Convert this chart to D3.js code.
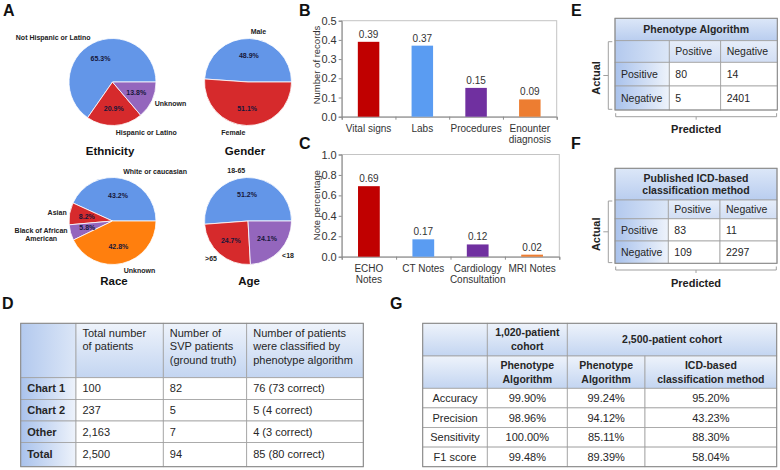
<!DOCTYPE html>
<html>
<head>
<meta charset="utf-8">
<script src="https://cdn.jsdelivr.net/npm/d3@7"></script>
<style>
  body { margin: 0; background: #fff; }
  svg { display: block; font-family: "Liberation Sans", Arial, Helvetica, sans-serif; }
</style>
</head>
<body>
<svg id="fig" width="780" height="470"></svg>
<script>
'use strict';

// ---- data ----
const ethnicityLabels = ['Not Hispanic or Latino', 'Hispanic or Latino', 'Unknown'];
const ethnicityValues = [65.3, 20.9, 13.8];
const genderLabels = ['Male', 'Female'];
const genderValues = [48.9, 51.1];
const raceLabels = ['White or caucasian', 'Asian', 'Black of African\nAmerican', 'Unknown'];
const raceValues = [43.2, 8.2, 5.8, 42.8];
const ageLabels = ['18-65', '>65', '<18'];
const ageValues = [51.2, 24.7, 24.1];

const recordCategories = ['Vital signs', 'Labs', 'Procedures', 'Enounter\ndiagnosis'];
const recordValues = [0.39, 0.37, 0.15, 0.09];
const noteCategories = ['ECHO\nNotes', 'CT Notes', 'Cardiology\nConsultation', 'MRI Notes'];
const noteValues = [0.69, 0.17, 0.12, 0.02];

const cohortHeader = ['', 'Total number\nof patients', 'Number of\nSVP patients\n(ground truth)',
  'Number of patients\nwere classified by\nphenotype algorithm'];
const cohortRows = [
  ['Chart 1', '100', '82', '76 (73 correct)'],
  ['Chart 2', '237', '5', '5 (4 correct)'],
  ['Other', '2,163', '7', '4 (3 correct)'],
  ['Total', '2,500', '94', '85 (80 correct)']
];

const confusionHeader = ['', 'Positive', 'Negative'];
const phenotypeConfusion = [['Positive', '80', '14'], ['Negative', '5', '2401']];
const icdConfusion = [['Positive', '83', '11'], ['Negative', '109', '2297']];

const cohortGroups = ['', '1,020-patient\ncohort', '2,500-patient cohort'];
const methodHeader = ['', 'Phenotype\nAlgorithm', 'Phenotype\nAlgorithm', 'ICD-based\nclassification method'];
const metricRows = [
  ['Accuracy', '99.90%', '99.24%', '95.20%'],
  ['Precision', '98.96%', '94.12%', '43.23%'],
  ['Sensitivity', '100.00%', '85.11%', '88.30%'],
  ['F1 score', '99.48%', '89.39%', '58.04%']
];

const pieColors = ['#6396e8', '#d62a2c', '#9466bd', '#ff7f0e'];
const barColors = ['#c00000', '#5a9cf2', '#7030a0', '#ed7d31'];

const svg = d3.select('#fig');

// gradients for table cells
const defs = svg.append('defs');
function linGrad(id, horizontal, c0, c1) {
  const lg = defs.append('linearGradient').attr('id', id)
    .attr('x1', 0).attr('y1', 0).attr('x2', horizontal ? 1 : 0).attr('y2', horizontal ? 0 : 1);
  lg.append('stop').attr('offset', 0).attr('stop-color', c0);
  lg.append('stop').attr('offset', 1).attr('stop-color', c1);
}
linGrad('gHdr', false, '#eef3fb', '#c3d5f1');
linGrad('gTitle', false, '#dce7f8', '#b9cdef');
linGrad('gHead2', false, '#e6edf9', '#d2def4');
linGrad('gRow', true, '#a9c2ec', '#eef3fb');
linGrad('gCorner', true, '#b3c9ee', '#dbe6f7');

function panelLetter(t, x, y) {
  svg.append('text').attr('x', x).attr('y', y).attr('font-size', 16).attr('font-weight', 'bold')
    .attr('fill', '#111').text(t);
}

// ---- pies ----
function drawPie(cfg) {
  const r = 43.5;
  const g = svg.append('g').attr('transform', `translate(${cfg.cx},${cfg.cy})`);
  const arcs = d3.pie().sort(null)
    .startAngle(Math.PI / 2).endAngle(Math.PI / 2 - 2 * Math.PI)(cfg.values);
  const arc = d3.arc().innerRadius(0).outerRadius(r);
  const mid = d3.arc().innerRadius(r * 0.6).outerRadius(r * 0.6);

  g.selectAll('path').data(arcs).join('path')
    .attr('d', arc)
    .attr('fill', (d, i) => pieColors[i])
    .attr('stroke', '#fff').attr('stroke-width', 0.8);

  g.selectAll('text.pct').data(arcs).join('text').attr('class', 'pct')
    .attr('transform', d => `translate(${mid.centroid(d)})`)
    .attr('text-anchor', 'middle').attr('dy', '0.35em')
    .attr('font-size', 7).attr('font-weight', 'bold').attr('fill', '#17173a')
    .text(d => d3.format('.1f')(d.data) + '%');

  g.selectAll('g.lbl').data(arcs).join('g').attr('class', 'lbl').each(function (d, i) {
    const a = (d.startAngle + d.endAngle) / 2;
    const s = Math.sin(a), c = Math.cos(a);
    const lines = cfg.labels[i].split('\n');
    const t = d3.select(this).append('text')
      .attr('font-size', 7).attr('font-weight', 'bold').attr('fill', '#222')
      .attr('text-anchor', 'middle');
    t.selectAll('tspan').data(lines).join('tspan')
      .attr('x', 0).attr('dy', (l, j) => j === 0 ? 0 : 8).text(l => l);
    const w = t.node().getBBox().width;
    const px = (r + 2) * s + (s > 0 ? 1 : -1);
    const py = -(r + 2) * c - c * 5;
    const tx = s > 0 ? px + w / 2 : px - w / 2;
    const ty = py - (lines.length - 1) * 4 + 2.5;
    t.attr('transform', `translate(${tx},${ty})`);
  });

  svg.append('text').attr('x', cfg.tx).attr('y', cfg.ty)
    .attr('text-anchor', 'middle').attr('font-size', 11.5).attr('font-weight', 'bold')
    .attr('fill', '#111').text(cfg.title);
}

drawPie({ cx: 112.5, cy: 82, values: ethnicityValues, labels: ethnicityLabels, title: 'Ethnicity', tx: 110, ty: 155 });
drawPie({ cx: 248, cy: 82, values: genderValues, labels: genderLabels, title: 'Gender', tx: 245, ty: 155 });
drawPie({ cx: 112.5, cy: 221, values: raceValues, labels: raceLabels, title: 'Race', tx: 114, ty: 285 });
drawPie({ cx: 248, cy: 221, values: ageValues, labels: ageLabels, title: 'Age', tx: 249, ty: 285 });

// ---- bar charts ----
function drawBars(cfg) {
  const g = svg.append('g');
  const n = cfg.cats.length;
  const x = d3.scaleBand().domain(cfg.cats).range([cfg.left, cfg.right])
    .paddingInner(0.6).paddingOuter(0.3);
  const y = d3.scaleLinear().domain([0, cfg.max]).range([cfg.bottom, cfg.top]);

  g.append('rect')
    .attr('x', cfg.left).attr('y', cfg.top)
    .attr('width', cfg.right - cfg.left).attr('height', cfg.bottom - cfg.top)
    .attr('fill', 'none').attr('stroke', '#c4c4c4');

  const ya = g.append('g').attr('transform', `translate(${cfg.left},0)`)
    .call(d3.axisLeft(y).tickValues(d3.range(0, cfg.max + 1e-9, cfg.step))
      .tickFormat(d3.format('.1f')).tickSize(3).tickPadding(2));
  ya.selectAll('path,line').attr('stroke', '#8c8c8c');
  ya.selectAll('text').attr('font-size', 11).attr('fill', '#333')
    .attr('font-family', '"Liberation Sans", Arial, sans-serif');

  // ticks at the category boundaries
  const xb = d3.scaleLinear().domain([0, n]).range([cfg.left, cfg.right]);
  const xa = g.append('g').attr('transform', `translate(0,${cfg.bottom})`)
    .call(d3.axisBottom(xb).tickValues(d3.range(n + 1)).tickFormat('').tickSize(3));
  xa.selectAll('path,line').attr('stroke', '#8c8c8c');

  g.selectAll('rect.bar').data(cfg.vals).join('rect').attr('class', 'bar')
    .attr('x', (d, i) => x(cfg.cats[i]))
    .attr('y', d => y(d))
    .attr('width', x.bandwidth())
    .attr('height', d => cfg.bottom - y(d))
    .attr('fill', (d, i) => barColors[i]);

  g.selectAll('text.val').data(cfg.vals).join('text').attr('class', 'val')
    .attr('x', (d, i) => x(cfg.cats[i]) + x.bandwidth() / 2)
    .attr('y', d => y(d) - 4)
    .attr('text-anchor', 'middle').attr('font-size', 10).attr('fill', '#333')
    .text(d => d3.format('.2f')(d));

  g.selectAll('text.cat').data(cfg.cats).join('text').attr('class', 'cat')
    .attr('text-anchor', 'middle').attr('font-size', 10).attr('fill', '#333')
    .each(function (c) {
      d3.select(this).selectAll('tspan').data(c.split('\n')).join('tspan')
        .attr('x', x(c) + x.bandwidth() / 2)
        .attr('y', (l, j) => cfg.bottom + 14.8 + j * 11.3)
        .text(l => l);
    });

  g.append('text')
    .attr('transform', `translate(${cfg.left - 22},${cfg.titleY}) rotate(-90)`)
    .attr('text-anchor', 'middle').attr('font-size', 9.5).attr('fill', '#333')
    .text(cfg.title);
}

drawBars({ cats: recordCategories, vals: recordValues, left: 341.7, right: 556.7, top: 20.7, bottom: 116.7,
  max: 0.5, step: 0.1, title: 'Number of records', titleY: 65 });
drawBars({ cats: noteCategories, vals: noteValues, left: 341.7, right: 559.3, top: 154.5, bottom: 256.7,
  max: 1.0, step: 0.2, title: 'Note percentage', titleY: 205 });

// ---- tables ----
function drawTable(cfg) {
  const g = svg.append('g');
  const cells = [];
  cfg.grid.forEach((row, r) => {
    let c = 0;
    row.forEach(cell => {
      const span = cell.span || 1;
      cells.push(Object.assign({
        x: cfg.xs[c], w: cfg.xs[c + span] - cfg.xs[c],
        y: cfg.ys[r], h: cfg.ys[r + 1] - cfg.ys[r]
      }, cell));
      c += span;
    });
  });
  const cg = g.selectAll('g.cell').data(cells).join('g').attr('class', 'cell');
  cg.append('rect')
    .attr('x', d => d.x).attr('y', d => d.y).attr('width', d => d.w).attr('height', d => d.h)
    .attr('fill', d => d.fill || '#fff').attr('stroke', '#a0a0a0').attr('stroke-width', 0.8);
  cg.append('text')
    .attr('font-size', d => d.bold ? cfg.boldSize : cfg.fontSize)
    .attr('font-weight', d => d.bold ? 'bold' : 'normal')
    .attr('fill', '#262626')
    .attr('text-anchor', d => d.align === 'left' ? 'start' : 'middle')
    .each(function (d) {
      const lines = d.text.split('\n');
      const x = d.align === 'left' ? d.x + cfg.pad : d.x + d.w / 2;
      const y0 = d.valign === 'top' ? d.y + cfg.topPad
        : d.y + d.h / 2 - (lines.length - 1) * cfg.lineH / 2;
      d3.select(this).selectAll('tspan').data(lines).join('tspan')
        .attr('x', x).attr('y', (l, j) => y0 + j * cfg.lineH).attr('dy', '0.35em')
        .text(l => l);
    });
  const x0 = cfg.xs[0], x1 = cfg.xs[cfg.xs.length - 1];
  const y0 = cfg.ys[0], y1 = cfg.ys[cfg.ys.length - 1];
  g.append('rect').attr('x', x0).attr('y', y0).attr('width', x1 - x0).attr('height', y1 - y0)
    .attr('fill', 'none').attr('stroke', '#8a8a8a').attr('stroke-width', 1);
}

// D
drawTable({
  xs: [20.7, 76, 163.3, 246.7, 363.3],
  ys: [323.3, 377.7, 399.5, 421, 442.5, 466.7],
  fontSize: 11, boldSize: 11, lineH: 13.3, pad: 6.5, topPad: 10,
  grid: [cohortHeader.map((t, i) => ({ text: t, align: 'left', valign: 'top', fill: i === 0 ? 'url(#gCorner)' : 'url(#gHdr)' }))]
    .concat(cohortRows.map(row => row.map((t, i) => ({ text: t, align: 'left', bold: i === 0, fill: i === 0 ? 'url(#gRow)' : '#fff' }))))
});

// E and F confusion matrices
function confusionGrid(title, rows) {
  return [[{ text: title, span: 3, bold: true, fill: 'url(#gTitle)' }],
    confusionHeader.map((t, i) => ({ text: t, align: 'left', fill: i === 0 ? 'url(#gCorner)' : 'url(#gHead2)' }))]
    .concat(rows.map(row => row.map((t, i) => ({ text: t, align: 'left', fill: i === 0 ? 'url(#gRow)' : '#fff' }))));
}

function drawFrame(xs, ys) {
  const g = svg.append('g').attr('fill', 'none').attr('stroke', '#a0a0a0').attr('stroke-width', 1);
  const left = xs[0], right = xs[xs.length - 1];
  const top = ys[1] + 1, bot = ys[ys.length - 1] - 0.7;
  const bx = left - 6.7, my = (top + bot) / 2;
  g.append('path').attr('d', `M${bx + 4},${top}H${bx}V${bot}H${bx + 4}M${bx},${my}H${bx - 5}`);
  const by = ys[ys.length - 1] + 6.7, mx = (left + right) / 2;
  g.append('path').attr('d', `M${left + 0.7},${by - 3.5}V${by}H${right - 0.7}V${by - 3.5}M${mx},${by}V${by + 3}`);
  svg.append('text')
    .attr('transform', `translate(${bx - 8.5},${my + 2.5}) rotate(-90)`)
    .attr('text-anchor', 'middle').attr('font-size', 11).attr('font-weight', 'bold').attr('fill', '#222')
    .text('Actual');
  svg.append('text').attr('x', mx).attr('y', by + 16.5)
    .attr('text-anchor', 'middle').attr('font-size', 11).attr('font-weight', 'bold').attr('fill', '#222')
    .text('Predicted');
}

const eXs = [615, 669.3, 720.7, 777.3], eYs = [18.3, 40.7, 62.3, 86, 110];
drawTable({ xs: eXs, ys: eYs, fontSize: 10.5, boldSize: 10.5, lineH: 12.4, pad: 6,
  grid: confusionGrid('Phenotype Algorithm', phenotypeConfusion) });
drawFrame(eXs, eYs);

const fXs = [615, 668.3, 720, 777], fYs = [168.3, 200, 218.8, 241, 263.3];
drawTable({ xs: fXs, ys: fYs, fontSize: 10.5, boldSize: 10.5, lineH: 12.4, pad: 6,
  grid: confusionGrid('Published ICD-based\nclassification method', icdConfusion) });
drawFrame(fXs, fYs);

// G
drawTable({
  xs: [422.7, 487.3, 567.3, 645, 776.7],
  ys: [323.3, 356, 388.3, 407.9, 427.5, 447.1, 466.7],
  fontSize: 11, boldSize: 10.5, lineH: 13.7, pad: 6,
  grid: [
    cohortGroups.map((t, i) => ({ text: t, bold: true, span: i === 2 ? 2 : 1, fill: 'url(#gHdr)' })),
    methodHeader.map(t => ({ text: t, bold: true, fill: 'url(#gHdr)' }))
  ].concat(metricRows.map(row => row.map(t => ({ text: t }))))
});

panelLetter('A', 3, 16);
panelLetter('B', 299, 16);
panelLetter('C', 299, 149);
panelLetter('D', 2, 309);
panelLetter('E', 571, 16);
panelLetter('F', 571, 149);
panelLetter('G', 390, 309);
</script>
</body>
</html>
